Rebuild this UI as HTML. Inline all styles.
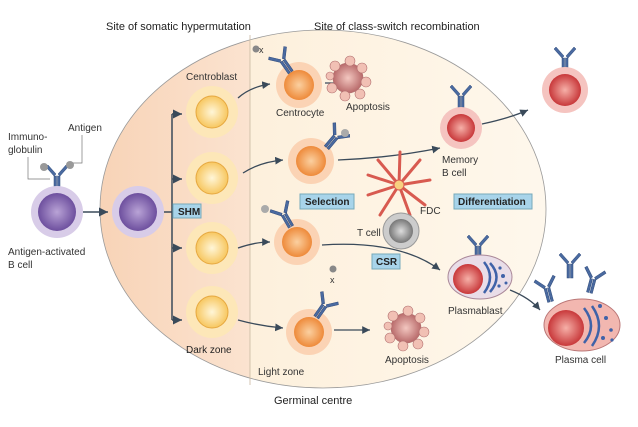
<!DOCTYPE html>
<html><head><meta charset="utf-8"><style>
body{margin:0;background:#fff}
text{font-family:"Liberation Sans",sans-serif;font-size:10px;fill:#333}
.b{font-weight:bold;fill:#222}
</style></head><body>
<svg width="638" height="422" viewBox="0 0 638 422" xmlns="http://www.w3.org/2000/svg">
<defs>
<linearGradient id="dz" x1="0" x2="1"><stop offset="0" stop-color="#f6c9a6"/><stop offset="1" stop-color="#fbe3d0"/></linearGradient>
<linearGradient id="lz" x1="0" x2="1"><stop offset="0" stop-color="#fdf0dc"/><stop offset="1" stop-color="#fffaf2"/></linearGradient>
<clipPath id="ec"><ellipse cx="323" cy="209" rx="223" ry="179"/></clipPath>
<radialGradient id="cb"><stop offset="0" stop-color="#fff6d8"/><stop offset="1" stop-color="#f7c760"/></radialGradient>
<radialGradient id="cc"><stop offset="0" stop-color="#fbd0a0"/><stop offset="1" stop-color="#ee8a3a"/></radialGradient>
<radialGradient id="pu"><stop offset="0" stop-color="#b9a3d6"/><stop offset="1" stop-color="#6d4f9e"/></radialGradient>
<radialGradient id="rd"><stop offset="0" stop-color="#f6b0a8"/><stop offset="1" stop-color="#c8383a"/></radialGradient>
<radialGradient id="ap"><stop offset="0" stop-color="#f3c7c0"/><stop offset="1" stop-color="#b86a6a"/></radialGradient>
<radialGradient id="gr"><stop offset="0" stop-color="#ddd"/><stop offset="1" stop-color="#777"/></radialGradient>
<marker id="ar" markerWidth="8" markerHeight="8" refX="6" refY="3" orient="auto"><path d="M0,0 L6,3 L0,6 z" fill="#3a4a5a"/></marker>
<g id="ab" fill="#4a6aa0" stroke="#2f4a7a" stroke-width="0.5"><rect x="-3" y="-4" width="2.5" height="14"/><rect x="0.5" y="-4" width="2.5" height="14"/><path d="M-3,-4 l-8,-9 l2,-2 l8,9z"/><path d="M3,-4 l8,-9 l-2,-2 l-8,9z"/></g>
</defs>
<g clip-path="url(#ec)">
<rect x="0" y="0" width="250" height="422" fill="url(#dz)"/>
<rect x="250" y="0" width="400" height="422" fill="url(#lz)"/>
</g>
<ellipse cx="323" cy="209" rx="223" ry="179" fill="none" stroke="#999" stroke-width="0.8"/>
<line x1="250" y1="35" x2="250" y2="385" stroke="#c9b8a0" stroke-width="0.8"/>
<text x="106" y="30" class="b" style="font-weight:normal;font-size:11px">Site of somatic hypermutation</text>
<text x="314" y="30" style="font-size:11px;fill:#222">Site of class-switch recombination</text>
<text x="274" y="404" style="font-size:11px;fill:#222">Germinal centre</text>
<text x="186" y="80">Centroblast</text>
<text x="8" y="140">Immuno-</text><text x="8" y="153">globulin</text><text x="68" y="131">Antigen</text>
<polyline points="28,157 28,179 50,179" fill="none" stroke="#777" stroke-width="0.7"/>
<polyline points="82,135 82,163 70,163" fill="none" stroke="#777" stroke-width="0.7"/>
<text x="8" y="255">Antigen-activated</text><text x="8" y="268">B cell</text>
<!-- purple cells -->
<use href="#ab" x="57" y="180"/><circle cx="44" cy="167" r="4" fill="#999"/><circle cx="70" cy="165" r="4" fill="#999"/>
<circle cx="57" cy="212" r="26" fill="#d8cce8"/><circle cx="57" cy="212" r="19" fill="url(#pu)"/>
<circle cx="138" cy="212" r="26" fill="#d8cce8"/><circle cx="138" cy="212" r="19" fill="url(#pu)"/>
<line x1="83" y1="212" x2="108" y2="212" stroke="#3a4a5a" stroke-width="1.5" marker-end="url(#ar)"/>
<line x1="164" y1="212" x2="172" y2="212" stroke="#3a4a5a" stroke-width="1.5"/>
<polyline points="172,114 172,320" fill="none" stroke="#3a4a5a" stroke-width="1.5"/>
<g stroke="#3a4a5a" stroke-width="1.5" marker-end="url(#ar)">
<line x1="172" y1="114" x2="182" y2="114"/><line x1="172" y1="179" x2="182" y2="179"/>
<line x1="172" y1="248" x2="182" y2="248"/><line x1="172" y1="320" x2="182" y2="320"/></g>
<g>
<circle cx="212" cy="112" r="26" fill="#fde7b8"/><circle cx="212" cy="112" r="16" fill="url(#cb)" stroke="#e6a840"/>
<circle cx="212" cy="178" r="26" fill="#fde7b8"/><circle cx="212" cy="178" r="16" fill="url(#cb)" stroke="#e6a840"/>
<circle cx="212" cy="248" r="26" fill="#fde7b8"/><circle cx="212" cy="248" r="16" fill="url(#cb)" stroke="#e6a840"/>
<circle cx="212" cy="312" r="26" fill="#fde7b8"/><circle cx="212" cy="312" r="16" fill="url(#cb)" stroke="#e6a840"/>
</g>
<rect x="173" y="204" width="28" height="14" fill="#a8d4ea" stroke="#7ab"/><text x="178" y="215" class="b">SHM</text>
<text x="186" y="353" class="b" style="font-weight:normal">Dark zone</text>
<text x="258" y="375">Light zone</text>
<!-- arrows to centrocytes -->
<g fill="none" stroke="#3a4a5a" stroke-width="1.3" marker-end="url(#ar)">
<path d="M238,98 Q250,87 270,84"/><path d="M243,173 Q260,162 283,160"/>
<path d="M238,248 Q255,242 270,242"/><path d="M238,320 Q260,326 283,328"/>
<path d="M325,83 L352,83"/><path d="M334,330 L370,330"/>
<path d="M338,160 Q390,158 440,148"/><path d="M322,245 Q400,240 440,270"/>
<path d="M482,124 Q510,118 528,110"/><path d="M510,290 Q530,298 540,310"/>
</g>
<!-- centrocytes -->
<g>
<circle cx="299" cy="85" r="23" fill="#fbd3b4"/><circle cx="299" cy="85" r="15" fill="url(#cc)"/>
<circle cx="311" cy="161" r="23" fill="#fbd3b4"/><circle cx="311" cy="161" r="15" fill="url(#cc)"/>
<circle cx="297" cy="242" r="23" fill="#fbd3b4"/><circle cx="297" cy="242" r="15" fill="url(#cc)"/>
<circle cx="309" cy="332" r="23" fill="#fbd3b4"/><circle cx="309" cy="332" r="15" fill="url(#cc)"/>
</g>
<use href="#ab" transform="translate(285,64) rotate(-35)"/><circle cx="256" cy="49" r="3.5" fill="#888"/><text x="259" y="53" style="font-size:9px">x</text>
<use href="#ab" transform="translate(333,140) rotate(40)"/><circle cx="345" cy="133" r="4" fill="#aaa"/>
<use href="#ab" transform="translate(286,218) rotate(-30)"/><circle cx="265" cy="209" r="4" fill="#aaa"/>
<use href="#ab" transform="translate(322,309) rotate(35)"/><circle cx="333" cy="269" r="3.5" fill="#888"/><text x="330" y="283" style="font-size:9px">x</text>
<text x="276" y="116">Centrocyte</text>
<!-- apoptosis -->
<g fill="#f1c0b4" stroke="#b37070" stroke-width="0.6">
<circle cx="348" cy="78" r="15" fill="url(#ap)"/>
<circle cx="335" cy="66" r="5"/><circle cx="350" cy="61" r="5"/><circle cx="362" cy="68" r="5"/><circle cx="366" cy="82" r="5"/><circle cx="360" cy="94" r="5"/><circle cx="345" cy="96" r="5"/><circle cx="332" cy="88" r="5"/><circle cx="330" cy="76" r="4"/>
<circle cx="406" cy="328" r="15" fill="url(#ap)"/>
<circle cx="393" cy="316" r="5"/><circle cx="408" cy="311" r="5"/><circle cx="420" cy="318" r="5"/><circle cx="424" cy="332" r="5"/><circle cx="418" cy="344" r="5"/><circle cx="403" cy="346" r="5"/><circle cx="390" cy="338" r="5"/><circle cx="388" cy="326" r="4"/>
</g>
<text x="346" y="110">Apoptosis</text><text x="385" y="363">Apoptosis</text>
<!-- FDC -->
<g stroke="#d85a50" stroke-width="3" fill="none" stroke-linecap="round">
<path d="M399,185 L400,152"/><path d="M399,185 L420,160"/><path d="M399,185 L430,180"/><path d="M399,185 L425,205"/><path d="M399,185 L410,215"/><path d="M399,185 L380,215"/><path d="M399,185 L368,195"/><path d="M399,185 L368,175"/><path d="M399,185 L378,160"/>
</g>
<circle cx="399" cy="185" r="5" fill="#f8d080" stroke="#d85a50"/>
<text x="420" y="214">FDC</text>
<circle cx="401" cy="231" r="18" fill="#ccc" stroke="#999"/><circle cx="401" cy="231" r="12" fill="url(#gr)"/>
<text x="357" y="236">T cell</text>
<rect x="300" y="194" width="54" height="15" fill="#a8d4ea" stroke="#7ab"/><text x="305" y="205" class="b">Selection</text>
<rect x="372" y="254" width="28" height="15" fill="#a8d4ea" stroke="#7ab"/><text x="376" y="265" class="b">CSR</text>
<rect x="454" y="194" width="78" height="15" fill="#a8d4ea" stroke="#7ab"/><text x="458" y="205" class="b">Differentiation</text>
<!-- memory -->
<use href="#ab" x="461" y="100"/>
<circle cx="461" cy="128" r="21" fill="#f5c4c0"/><circle cx="461" cy="128" r="14" fill="url(#rd)"/>
<text x="442" y="163">Memory</text><text x="442" y="176">B cell</text>
<use href="#ab" x="565" y="62"/>
<circle cx="565" cy="90" r="23" fill="#f5c4c0"/><circle cx="565" cy="90" r="16" fill="url(#rd)"/>
<!-- plasmablast -->
<use href="#ab" x="478" y="250"/>
<ellipse cx="480" cy="277" rx="32" ry="22" fill="#e9dde8" stroke="#a89"/>
<circle cx="468" cy="279" r="15" fill="url(#rd)"/>
<g fill="none" stroke="#3f62a8" stroke-width="2.5"><path d="M484,262 Q496,277 484,293"/><path d="M490,263 Q503,277 490,292"/></g>
<g fill="#3f62a8"><circle cx="500" cy="268" r="1.6"/><circle cx="503" cy="276" r="2"/><circle cx="499" cy="286" r="1.6"/><circle cx="506" cy="283" r="1.5"/></g>
<text x="448" y="314">Plasmablast</text>
<!-- plasma cell -->
<use href="#ab" transform="translate(548,292) rotate(-15)"/><use href="#ab" transform="translate(570,268)"/><use href="#ab" transform="translate(592,283) rotate(15)"/>
<ellipse cx="582" cy="325" rx="38" ry="26" fill="#f2b7b0" stroke="#b77"/>
<circle cx="566" cy="328" r="18" fill="url(#rd)"/>
<g fill="none" stroke="#3f62a8" stroke-width="2.5"><path d="M584,308 Q598,326 584,343"/><path d="M592,306 Q606,326 592,346"/></g>
<g fill="#3f62a8"><circle cx="600" cy="306" r="2"/><circle cx="606" cy="318" r="2"/><circle cx="611" cy="330" r="1.8"/><circle cx="603" cy="338" r="2"/><circle cx="612" cy="340" r="1.6"/></g>
<text x="555" y="363">Plasma cell</text>
</svg>
</body></html>
